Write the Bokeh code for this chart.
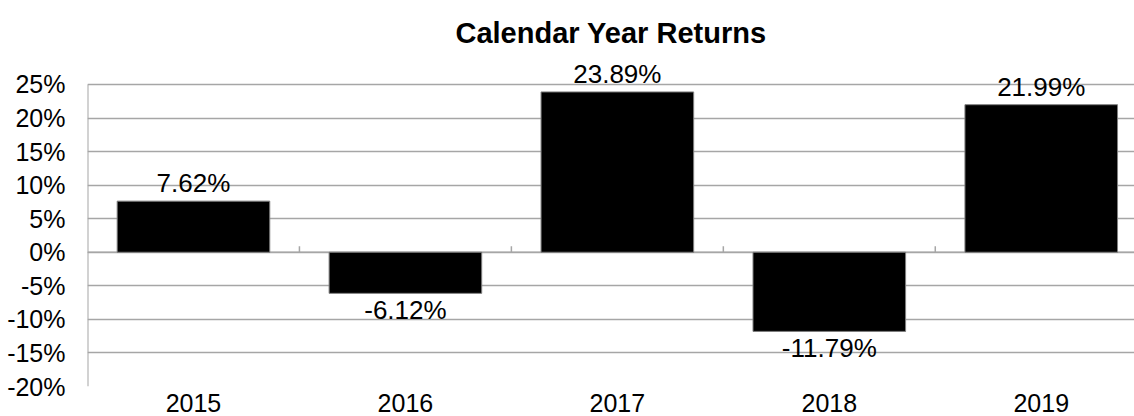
from bokeh.plotting import figure
from bokeh.models import ColumnDataSource, Range1d, FixedTicker, PrintfTickFormatter
from bokeh.core.properties import value
from bokeh.embed import file_html
from bokeh.resources import INLINE

years = ["2015", "2016", "2017", "2018", "2019"]
returns = [7.62, -6.12, 23.89, -11.79, 21.99]
y_ticks = [-20, -15, -10, -5, 0, 5, 10, 15, 20, 25]

n = len(years)
xc = [i + 0.5 for i in range(n)]
labels = ["%.2f%%" % v for v in returns]
pos = [v >= 0 for v in returns]

FONT = "Liberation Sans"
GRID = "#a6a6a6"

p = figure(width=1134, height=416, output_backend="svg", toolbar_location=None,
           x_range=Range1d(0, 4.94), y_range=Range1d(-20, 29.47),
           min_border_left=87, min_border_right=0, min_border_top=54, min_border_bottom=30)
p.outline_line_color = None
p.background_fill_color = "white"
p.border_fill_color = "white"

p.title.text = "Calendar Year Returns"
p.title.text_font = "Liberation Sans"
p.title.text_font_style = "bold"
p.title.text_font_size = "29px"
p.title.text_color = "black"
p.title.align = "center"
p.title.offset = 3
p.title.standoff = 11

# grid
p.xgrid.grid_line_color = None
p.ygrid.ticker = FixedTicker(ticks=y_ticks)
p.ygrid.grid_line_color = GRID
p.ygrid.grid_line_width = 1.5

# y axis
p.yaxis.ticker = FixedTicker(ticks=y_ticks)
p.yaxis.formatter = PrintfTickFormatter(format="%d%%")
p.yaxis.major_tick_line_color = None
p.yaxis.minor_tick_line_color = None
p.yaxis.axis_line_color = None
p.yaxis.major_label_text_font = FONT
p.yaxis.major_label_text_font_size = "25px"
p.yaxis.major_label_text_color = "black"
p.yaxis.major_label_standoff = 16

# x axis
p.xaxis.ticker = FixedTicker(ticks=xc)
p.xaxis.major_label_overrides = {x: y for x, y in zip(xc, years)}
p.xaxis.major_tick_line_color = None
p.xaxis.minor_tick_line_color = None
p.xaxis.axis_line_color = None
p.xaxis.major_label_text_font = FONT
p.xaxis.major_label_text_font_size = "25px"
p.xaxis.major_label_text_color = "black"
p.xaxis.major_label_standoff = 1

# value-axis line, zero line and category boundary ticks
p.segment(x0=[0], y0=[y_ticks[0]], x1=[0], y1=[y_ticks[-1]], line_color=GRID, line_width=2)
p.segment(x0=[0], y0=[0], x1=[n], y1=[0], line_color=GRID, line_width=1.5)
bx = list(range(1, n))
p.segment(x0=bx, y0=[0] * len(bx), x1=bx, y1=[0.9] * len(bx), line_color=GRID, line_width=1.5)

src = ColumnDataSource(dict(x=xc, top=returns, lab=labels))
p.vbar(x="x", top="top", bottom=0, width=0.72, source=src,
       fill_color="black", line_color="#7f7f7f", line_width=1)

pos_src = ColumnDataSource(dict(x=[x for x, q in zip(xc, pos) if q],
                                y=[v for v, q in zip(returns, pos) if q],
                                lab=[l for l, q in zip(labels, pos) if q]))
neg_src = ColumnDataSource(dict(x=[x for x, q in zip(xc, pos) if not q],
                                y=[v for v, q in zip(returns, pos) if not q],
                                lab=[l for l, q in zip(labels, pos) if not q]))
p.text(x="x", y="y", text="lab", source=pos_src, text_align="center",
       text_baseline="alphabetic", y_offset=-18, text_font=value(FONT),
       text_font_size="26px", text_color="black")
p.text(x="x", y="y", text="lab", source=neg_src, text_align="center",
       text_baseline="alphabetic", y_offset=17, text_font=value(FONT),
       text_font_size="26px", text_color="black")

open("out.html", "w").write(file_html(p, INLINE))
